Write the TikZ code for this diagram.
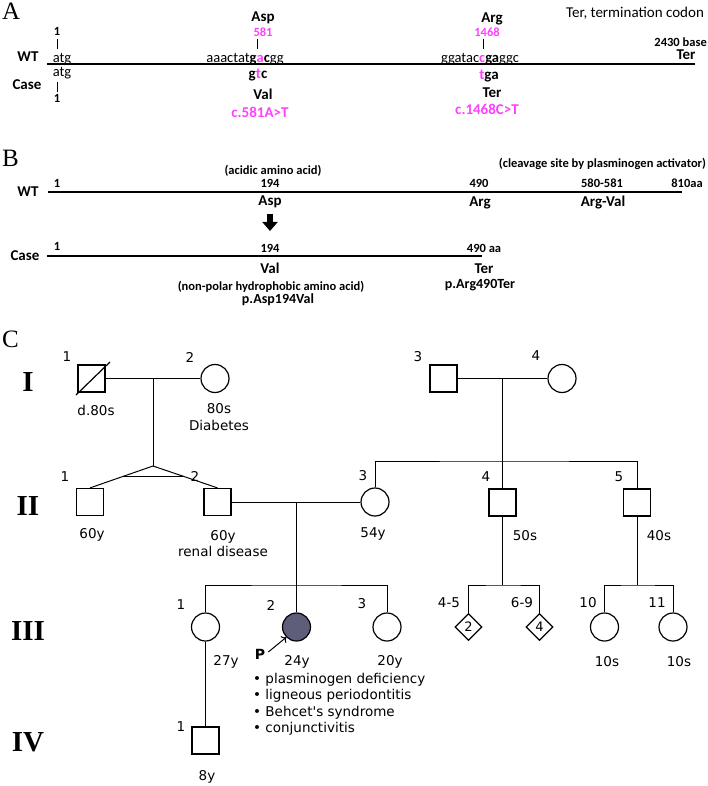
\documentclass[tikz,border=0pt]{standalone}
\usepackage{fontspec}
\setmainfont{Carlito}
\newfontfamily\pedfont{DejaVu Sans}
\newfontfamily\romfont{Liberation Serif}
\usetikzlibrary{shapes.geometric,arrows.meta,calc}
\definecolor{mut}{RGB}{255,64,255}
\definecolor{affected}{RGB}{94,94,122}
\newcommand\setfs[2]{\fontsize{#1}{#2}\selectfont}

\begin{document}
\begin{tikzpicture}[x=1pt, y=-1pt,
    panel/.style={font=\romfont\setfs{25}{28}, inner sep=0, anchor=base west},
    lbl/.style={font=\bfseries\setfs{15}{17}, inner sep=0, anchor=base},
    num/.style={font=\bfseries\setfs{12.5}{14}, inner sep=0, anchor=base},
    seq/.style={font=\setfs{14.5}{16}, inner sep=0, anchor=base},
    tick/.style={line width=1},
    genline/.style={line width=2},
    ped/.style={font=\pedfont\setfs{13.5}{16.5}, inner sep=0},
    gen/.style={font=\romfont\bfseries\setfs{29}{30}, inner sep=0},
    male/.style={draw, rectangle, minimum size=27, inner sep=0, line width=1.2},
    female/.style={draw, circle, minimum size=28, inner sep=0, line width=1.2},
    unknown/.style={draw, diamond, minimum size=27, inner sep=0, line width=1.2, font=\pedfont\setfs{13}{15}},
    rel/.style={line width=1}]
  \useasboundingbox (0,0) rectangle (708,786);

  % A: DNA
  \node[panel] (pA) at (2,19.5) {A};
  \node[seq, font=\setfs{15}{17}] (terdef) at (635,18) {Ter, termination codon};
  \coordinate (a0) at (47,64.5);
  \coordinate (a1) at (695,64.5);
  \draw[genline] (a0) -- (a1);
  \node[lbl] (wtA) at (28,62) {WT};
  \node[lbl] (caseA) at (27,90) {Case};
  \node[num] (oneA) at (57,36) {1};
  \draw[tick] (oneA.south) ++(0,3) -- ++(0,10);
  \node[seq] (atgA) at (62,63) {atg};
  \node[seq] (atgC) at (62,77) {atg};
  \node[num] (oneC) at (57,103) {1};
  \draw[tick] (oneC.north) ++(0,-3) -- ++(0,-10);
  \node[lbl] (asp) at (263,22) {Asp};
  \node[num, text=mut] (n581) at (263,37) {581};
  \coordinate (t581) at (257,39);
  \draw[tick] (t581) -- ++(0,10);
  \node[seq] (seq581) at (245,63) {aaactat\textbf{g}\textcolor{mut}{\textbf{a}}\textbf{c}gg};
  \node[lbl] (gtc) at (258,79) {g\textcolor{mut}{t}c};
  \node[lbl] (valA) at (263,100) {Val};
  \node[lbl, text=mut] (m581) at (260,118) {c.581A>T};
  \node[lbl] (arg) at (492,23) {Arg};
  \node[num, text=mut] (n1468) at (487,37) {1468};
  \coordinate (t1468) at (483,39);
  \draw[tick] (t1468) -- ++(0,10);
  \node[seq] (seq1468) at (480,63) {ggatac\textcolor{mut}{\textbf{c}}\textbf{ga}ggc};
  \node[lbl] (tga) at (489,80) {\textcolor{mut}{t}ga};
  \node[lbl] (terA) at (492,98) {Ter};
  \node[lbl, text=mut] (m1468) at (487,115) {c.1468C>T};
  \node[num, anchor=base east] (len) at (707,47) {2430 base};
  \node[lbl] (terEnd) at (686,60) {Ter};

  % B: protein
  \node[panel] (pB) at (2,167) {B};
  \coordinate (b0) at (48,192);
  \coordinate (b1) at (682,192);
  \draw[genline] (b0) -- (b1);
  \coordinate (c0) at (47,256);
  \coordinate (c1) at (482,256);
  \draw[genline] (c0) -- (c1);
  \node[lbl] (wtB) at (28,197) {WT};
  \node[lbl] (caseB) at (25,260) {Case};
  \node[num] (acidic) at (273,175) {(acidic amino acid)};
  \node[num] (cleave) at (602.5,168) {(cleavage site by plasminogen activator)};
  \node[num] (oneB) at (57,188) {1};
  \node[num] (p194) at (270,188) {194};
  \node[num] (p490) at (479,188) {490};
  \node[num] (p580) at (602,188) {580-581};
  \node[num] (p810) at (687,188) {810aa};
  \node[lbl] (aspB) at (270,206) {Asp};
  \node[lbl] (argB) at (480,207) {Arg};
  \node[lbl] (argval) at (603,207) {Arg-Val};
  \coordinate (arrS) at (270,214);
  \coordinate (arrE) at (270,231);
  \draw[line width=6, -{Triangle[width=15pt,length=9pt]}] (arrS) -- (arrE);
  \node[num] (oneBc) at (57,250) {1};
  \node[num] (q194) at (270,252) {194};
  \node[num] (q490) at (484,252) {490 aa};
  \node[lbl] (valB) at (270,273) {Val};
  \node[lbl] (terB) at (484,273) {Ter};
  \node[num] (nonpolar) at (271,290) {(non-polar hydrophobic amino acid)};
  \node[lbl, font=\bfseries\setfs{14}{15}] (pAsp) at (278,303) {p.Asp194Val};
  \node[lbl, font=\bfseries\setfs{14}{15}] (pArg) at (480,288) {p.Arg490Ter};

  % C: pedigree
  \node[panel] (pC) at (2,347) {C};
  \node[gen] (gI) at (28,382) {I};
  \node[gen] (gII) at (28,506) {II};
  \node[gen] (gIII) at (28,631) {III};
  \node[gen] (gIV) at (28,742) {IV};

  \node[male] (I1) at (91.5,378.5) {};
  \draw[line width=1.2] ([shift={(-15.5,16.5)}]I1.center) -- ([shift={(18.5,-16.5)}]I1.center);
  \node[female] (I2) at (215,378.5) {};
  \node[male] (I3) at (443.5,378.5) {};
  \node[female] (I4) at (562,378.5) {};
  \node[ped] (lI1) at (67,357) {1};
  \node[ped] (lI2) at (190,357) {2};
  \node[ped] (lI3) at (418,357) {3};
  \node[ped] (lI4) at (536,356) {4};
  \node[ped] (aI1) at (96,410) {d.80s};
  \node[ped, align=center] (aI2) at (219,417) {80s\\Diabetes};

  \node[male] (II1) at (90,502) {};
  \node[male] (II2) at (217.5,502) {};
  \node[female] (II3) at (375,502) {};
  \node[male] (II4) at (502.5,502.5) {};
  \node[male] (II5) at (637,502.5) {};
  \node[ped] (lII1) at (65,477) {1};
  \node[ped] (lII2) at (195,476) {2};
  \node[ped] (lII3) at (363,476) {3};
  \node[ped] (lII4) at (486,477) {4};
  \node[ped] (lII5) at (619,477) {5};
  \node[ped] (aII1) at (92,535) {60y};
  \node[ped, align=center] (aII2) at (223,543.5) {60y\\renal disease};
  \node[ped] (aII3) at (373,534) {54y};
  \node[ped] (aII4) at (525,536) {50s};
  \node[ped] (aII5) at (659,536) {40s};

  \node[female] (III1) at (205.5,627) {};
  \node[female, fill=affected] (III2) at (296.5,627) {};
  \node[female] (III3) at (387,627) {};
  \node[unknown] (III45) at (468.5,627) {2};
  \node[unknown] (III69) at (539.5,627) {4};
  \node[female] (III10) at (604.5,627) {};
  \node[female] (III11) at (673,627) {};
  \node[ped] (lIII1) at (181,605) {1};
  \node[ped] (lIII2) at (271,605) {2};
  \node[ped] (lIII3) at (362,604) {3};
  \node[ped] (lIII45) at (449,603) {4-5};
  \node[ped] (lIII69) at (522,603) {6-9};
  \node[ped] (lIII10) at (588,603) {10};
  \node[ped] (lIII11) at (657,603) {11};
  \node[ped] (aIII1) at (226,662) {27y};
  \node[ped] (aIII2) at (297,662) {24y};
  \node[ped] (aIII3) at (390,662) {20y};
  \node[ped] (aIII10) at (607,662) {10s};
  \node[ped] (aIII11) at (679,662) {10s};
  \node[ped, font=\pedfont\bfseries\setfs{14}{15}] (proband) at (260,654) {P};
  \draw[rel, -{To[length=4pt]}] ([shift={(3,-2)}]proband.east) -- (III2.south west);
  \node[ped, anchor=north west, align=left] (signs) at (253,673)
    {• plasminogen deficiency\\• ligneous periodontitis\\• Behcet's syndrome\\• conjunctivitis};

  \node[male] (IV1) at (205.5,740.5) {};
  \node[ped] (lIV1) at (181,727) {1};
  \node[ped] (aIV1) at (207,777) {8y};

  % lines of descent
  \coordinate (mI12) at (153,378.5);
  \coordinate (tw) at (153,466);
  \draw[rel] (I1) -- (I2);
  \draw[rel] (mI12) -- (tw);
  \draw[rel] (tw) -- (II1.north);
  \draw[rel] (tw) -- (II2.north);
  \draw[rel] ($(tw)!0.48!(II1.north)$) -- ($(tw)!0.48!(II2.north)$);
  \coordinate (mI34) at (502.5,378.5);
  \coordinate (sII) at (502.5,461);
  \draw[rel] (I3) -- (I4);
  \draw[rel] (mI34) -- (II4);
  \draw[rel] (II3.north) |- (sII) -| (II5.north);
  \coordinate (mII23) at (296.5,502);
  \coordinate (sIII) at (296.5,585);
  \draw[rel] (II2) -- (II3);
  \draw[rel] (mII23) -- (III2);
  \draw[rel] (III1.north) |- (sIII) -| (III3.north);
  \coordinate (sII4) at (502.5,585);
  \draw[rel] (II4) -- (sII4);
  \draw[rel] (III45.north) |- (sII4) -| (III69.north);
  \coordinate (sII5) at (637,585);
  \draw[rel] (II5) -- (sII5);
  \draw[rel] (III10.north) |- (sII5) -| (III11.north);
  \draw[rel] (III1) -- (IV1);
\end{tikzpicture}
\end{document}
